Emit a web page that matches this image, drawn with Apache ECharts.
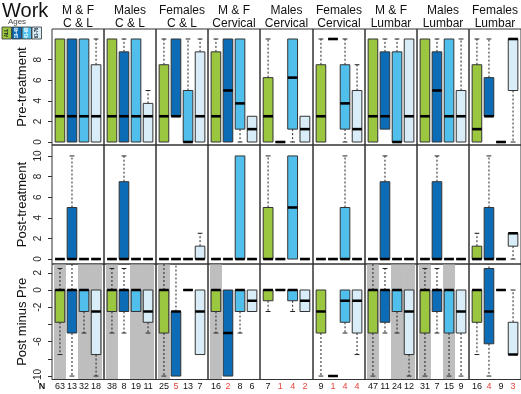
<!DOCTYPE html>
<html><head><meta charset="utf-8">
<script src="https://cdn.jsdelivr.net/npm/echarts@6/dist/echarts.min.js"></script>
<style>html,body{margin:0;padding:0;background:#fff}#c{width:521px;height:394px}</style>
</head><body><div id="c"></div>
<script>
// ---- data ----
const ageGroups = ['ALL', '19-40', '41-60', '61-76'];
const panelTitles = ['M & F\nC & L', 'Males\nC & L', 'Females\nC & L', 'M & F\nCervical', 'Males\nCervical', 'Females\nCervical', 'M & F\nLumbar', 'Males\nLumbar', 'Females\nLumbar'];
const rowNames = ['Pre-treatment', 'Post-treatment', 'Post minus Pre'];
// each box: [min, q1, median, q3, max]
const preTreatment = [
  [[0,0,2.5,10,10],[0,0,2.5,10,10],[0,0,2.5,10,10],[0,0,2.5,7.5,10]],
  [[0,0,2.5,10,10],[0,0,2.5,8.75,10],[0,0,2.5,10,10],[0,0,2.5,3.75,5]],
  [[0,0,2.5,7.5,10],[2.5,2.5,2.5,10,10],[0,0,0,5,10],[0,0,2.5,8.75,10]],
  [[0,0,2.5,8.75,10],[0,0,5,10,10],[0,1.25,3.75,10,10],[0,0,1.25,2.5,2.5]],
  [[0,0,2.5,6.25,10],[0,0,0,0,0],[0,1.25,6.25,10,10],[0,0,1.25,2.5,2.5]],
  [[0,0,2.5,7.5,10],[10,10,10,10,10],[0,1.25,3.75,7.5,10],[0,0,1.25,5,7.5]],
  [[0,0,2.5,10,10],[1.25,1.25,2.5,8.75,10],[0,0,0,8.75,10],[0,0,2.5,10,10]],
  [[0,0,2.5,10,10],[0,0,5,8.75,10],[0,0,2.5,10,10],[0,0,2.5,5,10]],
  [[0,0,1.25,7.5,10],[2.5,2.5,2.5,6.25,10],[0,0,0,0,0],[0,5,10,10,10]]
];
const postTreatment = [
  [[0,0,0,0,0],[0,0,0,5,10],[0,0,0,0,0],[0,0,0,0,0]],
  [[0,0,0,0,0],[0,0,0,7.5,10],[0,0,0,0,0],[0,0,0,0,0]],
  [[0,0,0,0,0],[0,0,0,0,0],[0,0,0,0,0],[0,0,0,1.25,2.5]],
  [[0,0,0,0,0],[0,0,0,0,0],[0,0,0,10,10],[0,0,0,0,0]],
  [[0,0,0,5,10],[0,0,0,0,0],[0,0,5,10,10],[0,0,0,0,0]],
  [[0,0,0,0,0],[0,0,0,0,0],[0,0,0,5,10],[0,0,0,0,0]],
  [[0,0,0,0,0],[0,0,0,7.5,10],[0,0,0,0,0],[0,0,0,0,0]],
  [[0,0,0,0,0],[0,0,0,7.5,10],[0,0,0,0,0],[0,0,0,0,0]],
  [[0,0,0,1.25,2.5],[0,0,0,5,10],[0,0,0,0,0],[0,1.25,2.5,2.5,2.5]]
];
const postMinusPre = [
  [[-7.5,-3.75,0,0,2.5],[-10,-5,0,0,5],[-5,-2.5,0,0,0],[-10,-7.5,-2.5,0,0]],
  [[-5,-2.5,0,0,2.5],[-5,-2.5,0,0,2.5],[-2.5,-2.5,0,0,0],[-5,-3.75,-2.5,0,0]],
  [[-10,-5,0,0,5],[-10,-10,-2.5,-2.5,5],[0,0,0,0,0],[-7.5,-7.5,-2.5,0,0]],
  [[-5,-2.5,0,0,0],[-10,-10,-5,0,0],[-5,-2.5,0,0,0],[-2.5,-2.5,-1.25,0,0]],
  [[-2.5,-1.25,0,0,0],[0,0,0,0,0],[-2.5,-1.25,0,0,0],[-2.5,-2.5,-1.25,0,0]],
  [[-10,-5,-2.5,0,0],[-10,-10,-10,-10,-10],[-5,-3.75,-1.25,0,0],[-7.5,-5,-1.25,0,0]],
  [[-10,-5,0,0,5],[-5,-3.75,0,0,2.5],[-5,-2.5,0,0,0],[-10,-7.5,-2.5,0,0]],
  [[-10,-5,0,0,2.5],[-5,-2.5,0,0,2.5],[-10,-5,0,0,0],[-10,-5,-2.5,0,0]],
  [[-7.5,-3.75,0,0,0],[-10,-6.25,-2.5,2.5,5],[0,0,0,0,0],[-7.5,-7.5,-7.5,-3.75,0]]
];
const diffShaded = [[1,0,1,1],[1,0,1,1],[1,0,0,0],[1,0,0,0],[0,0,0,0],[0,0,0,0],[1,0,1,1],[1,0,1,0],[0,0,0,0]];
const nCounts = [[63,13,32,18],[38,8,19,11],[25,5,13,7],[16,2,8,6],[7,1,4,2],[9,1,4,4],[47,11,24,12],[31,7,15,9],[16,4,9,3]];
const preTicks = [0,2,4,6,8], preLabels = [0,2,4,6,8];
const postTicks = [0,2,4,6,8,10], postLabels = [0,2,4,6,8,10];
const diffTicks = [-10,-8,-6,-4,-2,0,2], diffLabels = [-10,-6,-2,0,2];

// ---- style ----
const colors = ['#9BC63F', '#0C6DB6', '#50BFEC', '#D8EDF7'];
const FONT = 'Liberation Sans, Arial, Helvetica, sans-serif';
const L = 52, PW = 52.1;
const rows = [
  {top: 29, height: 116, min: -0.29, max: 10.97, data: preTreatment, ticks: preTicks, labels: preLabels},
  {top: 145, height: 119, min: -0.48, max: 11.06, data: postTreatment, ticks: postTicks, labels: postLabels},
  {top: 264, height: 115.5, min: -10.4, max: 3.02, data: postMinusPre, ticks: diffTicks, labels: diffLabels}
];
const colLeft = c => Math.round(L + c * PW);

function boxRender(params, api) {
  const x = api.value(0);
  const mn = api.value(1), q1 = api.value(2), md = api.value(3), q3 = api.value(4), mx = api.value(5);
  const hw = 0.4, cw = 0.2;
  const P = (xx, yy) => api.coord([xx, yy]);
  const kids = [];
  const dash = {stroke: '#222', lineWidth: 1, lineDash: [2, 2], fill: null};
  const solid = {stroke: '#222', lineWidth: 1, fill: null};
  function whisk(from, to) {
    const a = P(x, from), b = P(x, to);
    kids.push({type: 'line', shape: {x1: a[0], y1: a[1], x2: b[0], y2: b[1]}, style: dash});
    const c1 = P(x - cw, to), c2 = P(x + cw, to);
    kids.push({type: 'line', shape: {x1: c1[0], y1: c1[1], x2: c2[0], y2: c2[1]}, style: solid});
  }
  if (mx > q3) whisk(q3, mx);
  if (mn < q1) whisk(q1, mn);
  const tl = P(x - hw, q3), br = P(x + hw, q1);
  kids.push({type: 'rect', shape: {x: tl[0], y: tl[1], width: br[0] - tl[0], height: br[1] - tl[1]},
    style: {fill: colors[params.dataIndex], stroke: '#333', lineWidth: 1}});
  const m1 = P(x - hw, md), m2 = P(x + hw, md);
  kids.push({type: 'line', shape: {x1: m1[0], y1: m1[1], x2: m2[0], y2: m2[1]}, style: {stroke: '#000', lineWidth: 2.6}});
  return {type: 'group', children: kids};
}
function shadeRender(params, api) {
  const x = api.value(0);
  const cs = params.coordSys;
  const a = api.coord([x - 0.5, 0]), b = api.coord([x + 0.5, 0]);
  return {type: 'rect', shape: {x: a[0], y: cs.y + 0.5, width: b[0] - a[0], height: cs.height - 1},
    style: {fill: '#BEBEBE'}};
}

const grids = [], xAxes = [], yAxes = [], series = [];
rows.forEach((r, ri) => {
  for (let c = 0; c < 9; c++) {
    const gi = ri * 9 + c;
    const left = colLeft(c), right = colLeft(c + 1);
    grids.push({left: left, top: r.top, width: right - left, height: r.height, show: true,
      borderColor: '#333', borderWidth: 1, backgroundColor: 'transparent', containLabel: false, outerBoundsMode: 'none'});
    xAxes.push({
      gridIndex: gi, type: 'value', min: 0.34, max: 4.66, show: ri === 2,
      axisLine: {show: false}, axisTick: {show: false}, splitLine: {show: false},
      axisLabel: ri === 2 ? {
        show: true, customValues: [1, 2, 3, 4], margin: 3, fontFamily: FONT,
        formatter: function (v) { const n = nCounts[c][Math.round(v) - 1]; return n <= 5 ? '{r|' + n + '}' : '{k|' + n + '}'; },
        rich: {r: {color: '#E8453A', fontSize: 9, fontFamily: FONT}, k: {color: '#111', fontSize: 9, fontFamily: FONT}}
      } : {show: false}
    });
    yAxes.push({
      gridIndex: gi, type: 'value', min: r.min, max: r.max, show: c === 0,
      axisLine: {show: false}, splitLine: {show: false},
      axisTick: {show: true, customValues: r.ticks, length: 4, lineStyle: {color: '#333'}},
      axisLabel: {show: true, customValues: r.labels, rotate: 90, fontSize: 10, color: '#222', margin: 9, fontFamily: FONT},
      name: rowNames[ri], nameLocation: 'middle', nameGap: 23,
      nameTextStyle: {fontSize: 13, color: '#111', fontFamily: FONT}
    });
    if (ri === 2) {
      const sd = [];
      diffShaded[c].forEach((s, i) => { if (s) sd.push([i + 1]); });
      series.push({type: 'custom', xAxisIndex: gi, yAxisIndex: gi, z: 1, silent: true, renderItem: shadeRender, data: sd, encode: {x: 0}});
    }
    series.push({
      type: 'custom', xAxisIndex: gi, yAxisIndex: gi, z: 2, clip: true, renderItem: boxRender,
      data: r.data[c].map((s, i) => [i + 1].concat(s)),
      encode: {x: 0, y: [1, 2, 3, 4, 5]}
    });
  }
});

const graphics = [];
graphics.push({type: 'text', x: 2, y: 1, style: {text: 'Work', font: '20px ' + FONT, fill: '#111'}});
graphics.push({type: 'text', x: 17, y: 22, style: {text: 'Ages', font: '8px ' + FONT, fill: '#444', align: 'center', verticalAlign: 'middle'}});
const legTextCol = ['#1a1a1a', '#fff', '#fff', '#123'];
ageGroups.forEach((g, i) => {
  const x0 = 2 + i * 10;
  graphics.push({type: 'rect', shape: {x: x0, y: 27, width: 9.5, height: 12}, style: {fill: colors[i], stroke: '#333', lineWidth: 0.8}});
  graphics.push({type: 'text', x: x0 + 4.75, y: 33, rotation: Math.PI / 2, scaleX: 0.7,
    style: {text: g, font: 'bold 6px ' + FONT, fill: legTextCol[i], align: 'center', verticalAlign: 'middle'}});
});
panelTitles.forEach((t, c) => {
  const cx = (colLeft(c) + colLeft(c + 1)) / 2;
  graphics.push({type: 'text', x: cx, y: 4.5, style: {text: t, font: '12px ' + FONT, lineHeight: 12.5, fill: '#111', align: 'center', verticalAlign: 'top'}});
});
graphics.push({type: 'text', x: 42, y: 386.5, style: {text: 'N', font: 'bold 9px ' + FONT, fill: '#111', align: 'center', verticalAlign: 'middle'}});

const chart = echarts.init(document.getElementById('c'), null, {renderer: 'canvas'});
chart.setOption({
  animation: false,
  backgroundColor: '#fff',
  textStyle: {fontFamily: FONT},
  grid: grids, xAxis: xAxes, yAxis: yAxes, series: series, graphic: graphics
});
</script></body></html>
